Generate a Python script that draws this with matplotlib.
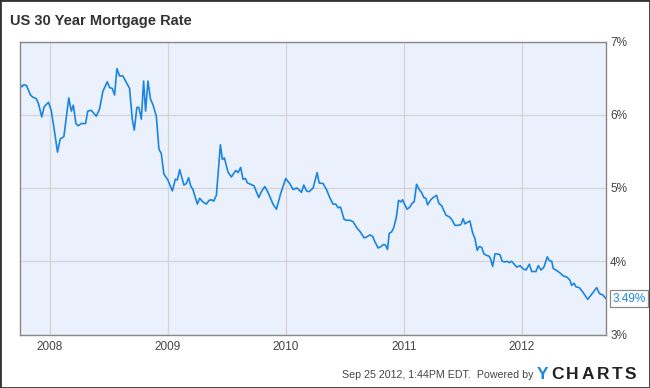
import matplotlib
matplotlib.use("Agg")
import matplotlib.pyplot as plt
from matplotlib.patches import Rectangle

# weekly 30y fixed rate (x in decimal years)
years = [
    2007.743, 2007.762, 2007.779, 2007.802, 2007.836, 2007.856, 2007.885, 2007.904, 2007.932, 2007.952,
    2007.989, 2008.012, 2008.040, 2008.065, 2008.088, 2008.119, 2008.161, 2008.182, 2008.199, 2008.221,
    2008.241, 2008.266, 2008.303, 2008.322, 2008.351, 2008.394, 2008.422, 2008.450, 2008.487, 2008.507,
    2008.529, 2008.549, 2008.569, 2008.591, 2008.619, 2008.676, 2008.699, 2008.716, 2008.738, 2008.755,
    2008.776, 2008.795, 2008.812, 2008.832, 2008.854, 2008.874, 2008.903, 2008.925, 2008.945, 2008.967,
    2009.001, 2009.039, 2009.064, 2009.081, 2009.101, 2009.137, 2009.157, 2009.177, 2009.194, 2009.213,
    2009.251, 2009.270, 2009.298, 2009.327, 2009.349, 2009.370, 2009.389, 2009.412, 2009.446, 2009.463,
    2009.480, 2009.510, 2009.539, 2009.576, 2009.595, 2009.618, 2009.638, 2009.658, 2009.675, 2009.703,
    2009.731, 2009.771, 2009.794, 2009.822, 2009.850, 2009.892, 2009.921, 2009.958, 2010.000, 2010.034,
    2010.062, 2010.096, 2010.133, 2010.153, 2010.176, 2010.198, 2010.232, 2010.266, 2010.283, 2010.317,
    2010.345, 2010.373, 2010.401, 2010.424, 2010.444, 2010.464, 2010.495, 2010.515, 2010.543, 2010.571,
    2010.605, 2010.628, 2010.664, 2010.685, 2010.713, 2010.736, 2010.755, 2010.783, 2010.806, 2010.832,
    2010.846, 2010.863, 2010.877, 2010.897, 2010.916, 2010.939, 2010.956, 2010.976, 2010.990, 2011.010,
    2011.029, 2011.052, 2011.075, 2011.089, 2011.109, 2011.131, 2011.151, 2011.171, 2011.188, 2011.202,
    2011.230, 2011.250, 2011.279, 2011.298, 2011.321, 2011.358, 2011.392, 2011.411, 2011.434, 2011.457,
    2011.485, 2011.504, 2011.519, 2011.538, 2011.561, 2011.584, 2011.604, 2011.623, 2011.640, 2011.661,
    2011.680, 2011.703, 2011.723, 2011.737, 2011.754, 2011.774, 2011.793, 2011.816, 2011.835, 2011.858,
    2011.878, 2011.895, 2011.915, 2011.937, 2011.958, 2011.986, 2012.009, 2012.037, 2012.065, 2012.085,
    2012.121, 2012.141, 2012.164, 2012.189, 2012.217, 2012.234, 2012.255, 2012.268, 2012.291, 2012.325,
    2012.353, 2012.387, 2012.410, 2012.424, 2012.444, 2012.461, 2012.489, 2012.518, 2012.560, 2012.594,
    2012.636, 2012.659, 2012.687, 2012.715,
]
rates = [
    6.43, 6.38, 6.41, 6.40, 6.27, 6.24, 6.22, 6.15, 5.97, 6.11,
    6.17, 6.06, 5.77, 5.49, 5.67, 5.70, 6.23, 6.05, 6.13, 5.88,
    5.85, 5.88, 5.88, 6.05, 6.06, 5.98, 6.08, 6.32, 6.45, 6.37,
    6.36, 6.27, 6.63, 6.53, 6.53, 6.36, 5.94, 5.79, 6.10, 6.10,
    5.94, 6.46, 6.05, 6.46, 6.21, 6.14, 5.98, 5.53, 5.47, 5.19,
    5.11, 4.96, 5.12, 5.11, 5.25, 5.04, 5.06, 5.14, 5.03, 4.98,
    4.78, 4.86, 4.81, 4.78, 4.83, 4.84, 4.82, 4.90, 5.59, 5.39,
    5.41, 5.22, 5.15, 5.24, 5.21, 5.28, 5.12, 5.13, 5.07, 5.05,
    5.03, 4.87, 4.95, 5.02, 4.94, 4.78, 4.71, 4.93, 5.13, 5.06,
    4.98, 5.00, 4.94, 5.04, 4.96, 4.95, 5.00, 5.21, 5.07, 5.06,
    4.98, 4.87, 4.78, 4.78, 4.73, 4.74, 4.57, 4.56, 4.56, 4.54,
    4.45, 4.41, 4.32, 4.33, 4.36, 4.34, 4.27, 4.18, 4.20, 4.23,
    4.22, 4.16, 4.38, 4.40, 4.46, 4.61, 4.83, 4.81, 4.84, 4.77,
    4.71, 4.74, 4.80, 4.81, 5.05, 4.98, 4.94, 4.87, 4.86, 4.77,
    4.84, 4.87, 4.90, 4.79, 4.76, 4.63, 4.60, 4.56, 4.49, 4.49,
    4.50, 4.58, 4.51, 4.53, 4.55, 4.39, 4.31, 4.15, 4.20, 4.19,
    4.10, 4.08, 4.07, 4.03, 3.93, 4.10, 4.10, 4.09, 4.00, 3.99,
    4.00, 3.98, 4.00, 3.96, 3.92, 3.94, 3.90, 3.88, 3.96, 3.86,
    3.86, 3.94, 3.88, 3.92, 4.06, 4.01, 4.00, 3.90, 3.88, 3.84,
    3.80, 3.78, 3.74, 3.67, 3.70, 3.65, 3.64, 3.58, 3.48, 3.55,
    3.64, 3.56, 3.54, 3.49,
]
year_ticks = [2008, 2009, 2010, 2011, 2012]
pct_ticks = [3, 4, 5, 6, 7]

plt.rcParams["font.family"] = ["Liberation Sans", "DejaVu Sans"]

W, H = 650, 388
fig = plt.figure(figsize=(6.5, 3.88), dpi=100)
ax = fig.add_axes([19.5 / W, 1 - 334.5 / H, (606 - 19.5) / W, (334.5 - 41.5) / H])
ax.set_facecolor("#eaf0fc")

ax.plot(years, rates, color="#1a85e0", lw=1.2, solid_joinstyle="round")

ax.set_xlim(years[0], years[-1])
ax.set_ylim(3, 7)
ax.set_xticks(year_ticks)
ax.set_xticklabels([str(y) for y in year_ticks])
ax.set_yticks(pct_ticks)
ax.set_yticklabels([f"{p}%" for p in pct_ticks])
ax.yaxis.tick_right()
ax.tick_params(length=0, labelsize=8.5, labelcolor="#444444")
ax.tick_params(axis="y", pad=3)
ax.tick_params(axis="x", pad=5)
ax.grid(True, color="#d4d4d4", lw=0.9)
ax.set_axisbelow(True)
for s in ax.spines.values():
    s.set_color("#888888")
    s.set_linewidth(1)

# last value tag on the right axis
ax.annotate(f"{rates[-1]:.2f}%", xy=(years[-1], rates[-1]), xytext=(4.5, 0),
            textcoords="offset points", ha="left", va="center",
            fontsize=8.5, color="#1a85e0", annotation_clip=False,
            bbox=dict(boxstyle="square,pad=0.22", fc="white", ec="#888888", lw=0.9))

fig.text(10 / W, 1 - 21 / H, "US 30 Year Mortgage Rate", fontsize=10.5,
         fontweight="bold", color="#333333", va="center", ha="left")

fig.text(534 / W, 1 - 375 / H, "Sep 25 2012, 1:44PM EDT.  Powered by", fontsize=7.7,
         color="#444444", va="center", ha="right")

# YCHARTS logo, letters spread out
fig.canvas.draw()
renderer = fig.canvas.get_renderer()
x = 537
for i, ch in enumerate("YCHARTS"):
    t = fig.text(x / W, 1 - 374.5 / H, ch, fontsize=12.5, fontweight="bold",
                 color="#1a8ad8" if i == 0 else "#222222", va="center", ha="left")
    x += t.get_window_extent(renderer).width + 2.6

fig.patches.append(Rectangle((0, 0), 1, 1, transform=fig.transFigure, fill=False,
                             edgecolor="#333333", lw=2))

fig.savefig("out.png", dpi=100)
